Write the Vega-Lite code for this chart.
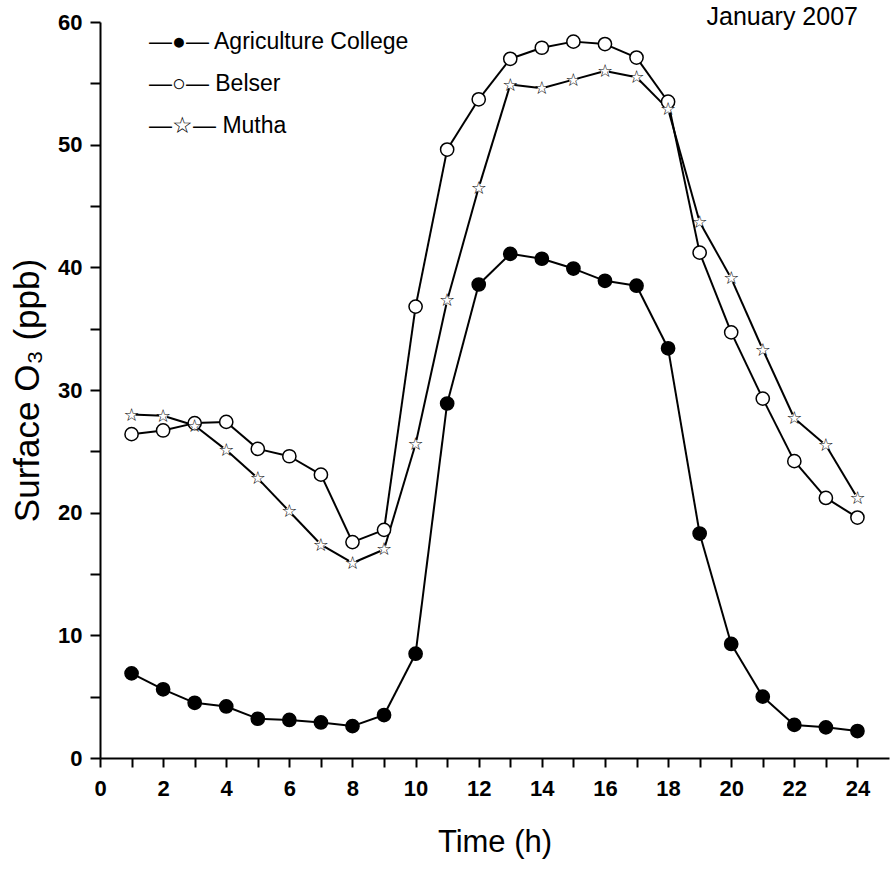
{
  "width": 789,
  "height": 736,
  "autosize": "none",
  "padding": {"left": 100, "top": 22, "right": 5, "bottom": 121},
  "background": "white",
  "config": {
    "view": {"stroke": null},
    "font": "Liberation Sans"
  },
  "title": {
    "text": "January 2007",
    "anchor": "end",
    "orient": "top",
    "frame": "group",
    "fontSize": 25,
    "fontWeight": "normal",
    "font": "Liberation Sans",
    "color": "black",
    "baseline": "middle",
    "offset": 0,
    "dx": -31,
    "dy": 31
  },
  "data": {
    "values": [
      {"hour": 1, "site": "Agriculture College", "o3": 6.9},
      {"hour": 2, "site": "Agriculture College", "o3": 5.6},
      {"hour": 3, "site": "Agriculture College", "o3": 4.5},
      {"hour": 4, "site": "Agriculture College", "o3": 4.2},
      {"hour": 5, "site": "Agriculture College", "o3": 3.2},
      {"hour": 6, "site": "Agriculture College", "o3": 3.1},
      {"hour": 7, "site": "Agriculture College", "o3": 2.9},
      {"hour": 8, "site": "Agriculture College", "o3": 2.6},
      {"hour": 9, "site": "Agriculture College", "o3": 3.5},
      {"hour": 10, "site": "Agriculture College", "o3": 8.5},
      {"hour": 11, "site": "Agriculture College", "o3": 28.9},
      {"hour": 12, "site": "Agriculture College", "o3": 38.6},
      {"hour": 13, "site": "Agriculture College", "o3": 41.1},
      {"hour": 14, "site": "Agriculture College", "o3": 40.7},
      {"hour": 15, "site": "Agriculture College", "o3": 39.9},
      {"hour": 16, "site": "Agriculture College", "o3": 38.9},
      {"hour": 17, "site": "Agriculture College", "o3": 38.5},
      {"hour": 18, "site": "Agriculture College", "o3": 33.4},
      {"hour": 19, "site": "Agriculture College", "o3": 18.3},
      {"hour": 20, "site": "Agriculture College", "o3": 9.3},
      {"hour": 21, "site": "Agriculture College", "o3": 5.0},
      {"hour": 22, "site": "Agriculture College", "o3": 2.7},
      {"hour": 23, "site": "Agriculture College", "o3": 2.5},
      {"hour": 24, "site": "Agriculture College", "o3": 2.2},
      {"hour": 1, "site": "Belser", "o3": 26.4},
      {"hour": 2, "site": "Belser", "o3": 26.7},
      {"hour": 3, "site": "Belser", "o3": 27.3},
      {"hour": 4, "site": "Belser", "o3": 27.4},
      {"hour": 5, "site": "Belser", "o3": 25.2},
      {"hour": 6, "site": "Belser", "o3": 24.6},
      {"hour": 7, "site": "Belser", "o3": 23.1},
      {"hour": 8, "site": "Belser", "o3": 17.6},
      {"hour": 9, "site": "Belser", "o3": 18.6},
      {"hour": 10, "site": "Belser", "o3": 36.8},
      {"hour": 11, "site": "Belser", "o3": 49.6},
      {"hour": 12, "site": "Belser", "o3": 53.7},
      {"hour": 13, "site": "Belser", "o3": 57.0},
      {"hour": 14, "site": "Belser", "o3": 57.9},
      {"hour": 15, "site": "Belser", "o3": 58.4},
      {"hour": 16, "site": "Belser", "o3": 58.2},
      {"hour": 17, "site": "Belser", "o3": 57.1},
      {"hour": 18, "site": "Belser", "o3": 53.5},
      {"hour": 19, "site": "Belser", "o3": 41.2},
      {"hour": 20, "site": "Belser", "o3": 34.7},
      {"hour": 21, "site": "Belser", "o3": 29.3},
      {"hour": 22, "site": "Belser", "o3": 24.2},
      {"hour": 23, "site": "Belser", "o3": 21.2},
      {"hour": 24, "site": "Belser", "o3": 19.6},
      {"hour": 1, "site": "Mutha", "o3": 28.0},
      {"hour": 2, "site": "Mutha", "o3": 27.9},
      {"hour": 3, "site": "Mutha", "o3": 27.1},
      {"hour": 4, "site": "Mutha", "o3": 25.1},
      {"hour": 5, "site": "Mutha", "o3": 22.8},
      {"hour": 6, "site": "Mutha", "o3": 20.1},
      {"hour": 7, "site": "Mutha", "o3": 17.4},
      {"hour": 8, "site": "Mutha", "o3": 15.9},
      {"hour": 9, "site": "Mutha", "o3": 17.0},
      {"hour": 10, "site": "Mutha", "o3": 25.6},
      {"hour": 11, "site": "Mutha", "o3": 37.3},
      {"hour": 12, "site": "Mutha", "o3": 46.5},
      {"hour": 13, "site": "Mutha", "o3": 54.9},
      {"hour": 14, "site": "Mutha", "o3": 54.6},
      {"hour": 15, "site": "Mutha", "o3": 55.3},
      {"hour": 16, "site": "Mutha", "o3": 56.0},
      {"hour": 17, "site": "Mutha", "o3": 55.5},
      {"hour": 18, "site": "Mutha", "o3": 52.9},
      {"hour": 19, "site": "Mutha", "o3": 43.7},
      {"hour": 20, "site": "Mutha", "o3": 39.1},
      {"hour": 21, "site": "Mutha", "o3": 33.3},
      {"hour": 22, "site": "Mutha", "o3": 27.7},
      {"hour": 23, "site": "Mutha", "o3": 25.5},
      {"hour": 24, "site": "Mutha", "o3": 21.2}
    ]
  },
  "encoding": {
    "x": {
      "field": "hour",
      "type": "quantitative",
      "scale": {"domain": [0, 25], "nice": false, "zero": false},
      "axis": {
        "title": "Time (h)",
        "values": [0,1,2,3,4,5,6,7,8,9,10,11,12,13,14,15,16,17,18,19,20,21,22,23,24],
        "labelExpr": "datum.value % 2 === 0 ? datum.label : ''",
        "grid": false,
        "domainColor": "black",
        "domainWidth": 2,
        "tickColor": "black",
        "tickWidth": 2,
        "tickSize": 9,
        "labelFontSize": 22,
        "labelFontWeight": "bold",
        "labelColor": "black",
        "labelPadding": 11,
        "labelFlush": false,
        "labelOverlap": false,
        "titleFontSize": 31,
        "titleFontWeight": "normal",
        "titleColor": "black",
        "titlePadding": 28
      }
    },
    "y": {
      "field": "o3",
      "type": "quantitative",
      "scale": {"domain": [0, 60], "nice": false},
      "axis": {
        "title": "Surface O₃ (ppb)",
        "values": [0,5,10,15,20,25,30,35,40,45,50,55,60],
        "labelExpr": "datum.value % 10 === 0 ? datum.label : ''",
        "grid": false,
        "domainColor": "black",
        "domainWidth": 2,
        "tickColor": "black",
        "tickWidth": 2,
        "tickSize": 10,
        "labelFontSize": 22,
        "labelFontWeight": "bold",
        "labelColor": "black",
        "labelPadding": 8,
        "labelFlush": false,
        "labelOverlap": false,
        "titleFontSize": 35,
        "titleFontWeight": "normal",
        "titleColor": "black",
        "titlePadding": 12
      }
    }
  },
  "layer": [
    {
      "transform": [
        {
          "window": [
            {"op": "lead", "field": "hour", "as": "hour_next"},
            {"op": "lead", "field": "o3", "as": "o3_next"}
          ],
          "groupby": ["site"],
          "sort": [{"field": "hour", "order": "ascending"}]
        },
        {"filter": "datum.hour_next != null"}
      ],
      "mark": {"type": "rule", "color": "black", "strokeWidth": 2},
      "encoding": {
        "x2": {"field": "hour_next"},
        "y2": {"field": "o3_next"}
      }
    },
    {
      "transform": [{"filter": "datum.site !== 'Mutha'"}],
      "mark": {"type": "point", "shape": "circle", "filled": true, "stroke": "black", "strokeWidth": 1.5, "size": 175, "opacity": 1},
      "encoding": {
        "fill": {
          "field": "site",
          "type": "nominal",
          "scale": {"domain": ["Agriculture College", "Belser", "Mutha"], "range": ["black", "white", "white"]},
          "legend": {
            "title": null,
            "orient": "none",
            "legendX": 26,
            "legendY": 8,
            "symbolSize": 0,
            "symbolOpacity": 0,
            "symbolStrokeWidth": 0,
            "labelOffset": 0,
            "labelFont": "Liberation Sans",
            "labelFontSize": 23,
            "labelColor": "black",
            "labelLimit": 400,
            "labelExpr": "datum.label === 'Mutha' ? '—☆— Mutha' : datum.label === 'Belser' ? '—○— Belser' : '—●— Agriculture College'",
            "rowPadding": 18,
            "padding": 0
          }
        }
      }
    },
    {
      "transform": [{"filter": "datum.site === 'Mutha'"}],
      "mark": {"type": "point", "shape": "circle", "filled": true, "fill": "white", "strokeWidth": 0, "size": 70, "opacity": 1}
    },
    {
      "transform": [{"filter": "datum.site === 'Mutha'"}],
      "mark": {"type": "text", "text": "☆", "font": "DejaVu Sans", "fontSize": 18, "color": "black", "align": "center", "baseline": "middle", "dy": 1}
    }
  ]
}
